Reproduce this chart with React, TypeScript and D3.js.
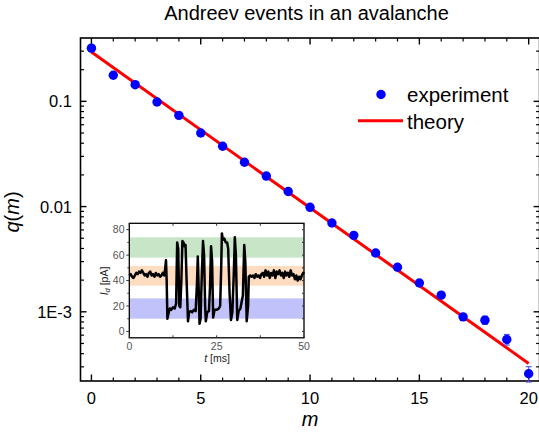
import React from "react";
import * as d3 from "d3";

// ---------- data ----------
const mValues = [0, 1, 2, 3, 4, 5, 6, 7, 8, 9, 10, 11, 12, 13, 14, 15, 16, 17, 18, 19, 20];
const qExperiment = [
  0.32, 0.177, 0.144, 0.0985, 0.0736, 0.05, 0.0374, 0.0264, 0.0195, 0.0139, 0.00984,
  0.00698, 0.00533, 0.00362, 0.00265, 0.00188, 0.00144, 0.000895, 0.000833, 0.000546, 0.000258,
];
const qError = [
  0, 0, 0, 0, 0, 0, 0, 0, 0, 0, 0, 0, 0, 0.00005, 0.00004, 0.00004, 0.00004, 0.00006, 0.000075,
  0.000063, 0.000043,
];
const theoryM = [0, 20];
const theoryQ = [0.294, 0.000323];

const yMajorTicks = [0.1, 0.01, 0.001];
const yMajorLabels = ["0.1", "0.01", "1E-3"];
const xMajorTicks = [0, 5, 10, 15, 20];

// inset trace (time in ms, current in pA)
const traceT = [
  0, 0.4, 0.8, 1.2, 1.6, 2.0, 2.4, 2.8, 3.2, 3.6, 4.0, 4.4, 4.8, 5.2, 5.6, 6.0, 6.4, 6.8, 7.2, 7.6,
  8.0, 8.4, 8.8, 9.2, 9.6, 10.0,
  10.3, 10.5, 10.7, 10.9, 11.2, 11.6, 12.0, 12.5, 13.0, 13.4, 13.7, 14.0, 14.3, 14.6, 14.9, 15.2,
  15.5, 15.8, 16.1, 16.4, 16.8, 17.1, 17.5, 18.0, 18.5, 19.0, 19.4, 19.6, 19.9, 20.1, 20.4, 20.7,
  21.1, 21.4, 21.7, 21.9, 22.3, 22.8, 23.1, 23.4, 23.7, 24.0, 24.4, 25.0, 25.6, 26.0, 26.3, 26.5,
  26.8, 27.2, 27.6, 28.0, 28.3, 28.7, 29.1, 29.5, 29.9, 30.2, 30.5, 30.9, 31.3, 31.8, 32.2, 32.5,
  32.9, 33.2, 33.6, 34.0, 34.2,
  34.6, 35.0, 35.4, 35.8, 36.2, 36.6, 37.0, 37.4, 37.8, 38.2, 38.6, 39.0, 39.4, 39.8, 40.2, 40.6,
  41.0, 41.4, 41.8, 42.2, 42.6, 43.0, 43.4, 43.8, 44.2, 44.6, 45.0, 45.4, 45.8, 46.2, 46.6, 47.0,
  47.4, 47.8, 48.2, 48.6, 49.0, 49.4, 49.8, 50,
];
const traceI = [
  44, 45, 43, 42, 44, 46, 45, 47, 46, 48, 46, 44, 45, 43, 46, 47, 44, 45, 43, 46,
  44, 45, 43, 44, 46, 44,
  50, 56, 40, 10, 14, 18, 17, 19, 18, 22, 70, 65, 20, 19, 40, 71,
  70, 67, 68, 40, 8, 15, 16, 15, 17, 16, 40, 59, 30, 6, 10, 40,
  71, 60, 20, 8, 15, 16, 35, 67, 55, 11, 17, 17, 18, 20, 50, 77,
  72, 73, 70, 70, 65, 30, 9, 15, 45, 74, 60, 9, 16, 18, 24, 28,
  68, 55, 8, 20, 43,
  44, 43, 44, 42, 45, 43, 44, 42, 45, 46, 43, 48, 44, 47, 42, 46,
  44, 48, 42, 47, 45, 48, 44, 46, 42, 47, 44, 46, 43, 48, 44, 45,
  41, 44, 40, 43, 41, 44, 46, 45,
];
const bandRanges = [
  [58, 74],
  [36, 51.5],
  [10, 26],
];
const bandColors = ["#c8e5c8", "#fddcc0", "#c2c2fb"];
const insetYTicks = [0, 20, 40, 60, 80];
const insetXTicks = [0, 25, 50];

export default function App() {
  const W = 539;
  const H = 434;
  const left = 80.5;
  const right = 539.6;
  const top = 38;
  const bottom = 381;

  const x = d3.scaleLinear().domain([-0.5, 20.5]).range([left, right]);
  const y = d3.scaleLog().domain([2.2e-4, 0.4]).range([bottom, top]);

  const minorY: number[] = [];
  [1e-4, 1e-3, 1e-2, 1e-1].forEach((dec) => {
    for (let k = 2; k <= 9; k++) {
      const v = dec * k;
      if (v > 2.2e-4 && v < 0.4) minorY.push(v);
    }
  });
  const xMinor = d3.range(0, 21).filter((v) => v % 5 !== 0);

  const theoryLine = d3
    .line<number>()
    .x((_, i) => x(theoryM[i]))
    .y((d) => y(d))(theoryQ) as string;

  // inset
  const iL = 129.3;
  const iR = 304;
  const iT = 223.3;
  const iB = 337.8;
  const ix = d3.scaleLinear().domain([0, 50]).range([iL, iR]);
  const iy = d3.scaleLinear().domain([-5, 85]).range([iB, iT]);
  const tracePath = d3
    .line<number>()
    .x((_, i) => ix(traceT[i]))
    .y((d) => iy(d))(traceI) as string;

  const font = "'Liberation Sans', Arial, Helvetica, sans-serif";
  const blue = "#0000ff";

  return (
    <svg
      width={W}
      height={H}
      style={{ position: "absolute", left: 0, top: 0, background: "#fff" }}
      fontFamily={font}
    >
      <rect x={0} y={0} width={W} height={H} fill="#fff" />
      {/* title */}
      <text x={306.5} y={20} fontSize={20} textAnchor="middle" fill="#000">
        Andreev events in an avalanche
      </text>

      {/* frame */}
      <rect x={left} y={top} width={right - left} height={bottom - top} fill="none" stroke="#000" strokeWidth={1.6} />

      {/* y ticks */}
      {yMajorTicks.map((v) => (
        <g key={"ym" + v}>
          <line x1={left} x2={left + 6} y1={y(v)} y2={y(v)} stroke="#000" strokeWidth={1.4} />
          <line x1={right} x2={right - 6} y1={y(v)} y2={y(v)} stroke="#000" strokeWidth={1.4} />
        </g>
      ))}
      {minorY.map((v) => (
        <g key={"yn" + v}>
          <line x1={left} x2={left + 3.5} y1={y(v)} y2={y(v)} stroke="#000" strokeWidth={1.2} />
          <line x1={right} x2={right - 3.5} y1={y(v)} y2={y(v)} stroke="#000" strokeWidth={1.2} />
        </g>
      ))}
      {yMajorTicks.map((v, i) => (
        <text key={"yl" + v} x={72} y={y(v)} dy="0.36em" fontSize={16.5} textAnchor="end" fill="#000">
          {yMajorLabels[i]}
        </text>
      ))}

      {/* x ticks */}
      {xMajorTicks.map((v) => (
        <g key={"xm" + v}>
          <line x1={x(v)} x2={x(v)} y1={bottom} y2={bottom - 6.5} stroke="#000" strokeWidth={1.4} />
          <line x1={x(v)} x2={x(v)} y1={top} y2={top + 6.5} stroke="#000" strokeWidth={1.4} />
          <text x={x(v)} y={404} fontSize={16.5} textAnchor="middle" fill="#000">
            {v}
          </text>
        </g>
      ))}
      {xMinor.map((v) => (
        <g key={"xn" + v}>
          <line x1={x(v)} x2={x(v)} y1={bottom} y2={bottom - 3.5} stroke="#000" strokeWidth={1.2} />
          <line x1={x(v)} x2={x(v)} y1={top} y2={top + 3.5} stroke="#000" strokeWidth={1.2} />
        </g>
      ))}

      {/* axis titles */}
      <text x={310} y={426} fontSize={20} fontStyle="italic" textAnchor="middle" fill="#000">
        m
      </text>
      <text
        transform="translate(19,212) rotate(-90)"
        fontSize={20}
        textAnchor="middle"
        fill="#000"
      >
        <tspan fontStyle="italic">q</tspan>(<tspan fontStyle="italic">m</tspan>)
      </text>

      {/* theory line */}
      <path d={theoryLine} fill="none" stroke="#ff0000" strokeWidth={3} />

      {/* error bars */}
      {mValues.map((m, i) =>
        qError[i] > 0 ? (
          <g key={"e" + m} stroke="#5050ff" strokeWidth={1.1}>
            <line x1={x(m)} x2={x(m)} y1={y(qExperiment[i] - qError[i])} y2={y(qExperiment[i] + qError[i])} />
            <line x1={x(m) - 3} x2={x(m) + 3} y1={y(qExperiment[i] - qError[i])} y2={y(qExperiment[i] - qError[i])} />
            <line x1={x(m) - 3} x2={x(m) + 3} y1={y(qExperiment[i] + qError[i])} y2={y(qExperiment[i] + qError[i])} />
          </g>
        ) : null
      )}
      {/* points */}
      {mValues.map((m, i) => (
        <circle key={"p" + m} cx={x(m)} cy={y(qExperiment[i])} r={4.7} fill={blue} />
      ))}

      {/* legend */}
      <circle cx={381} cy={94.5} r={4.7} fill={blue} />
      <text x={407} y={101.5} fontSize={20.5} fill="#000">
        experiment
      </text>
      <line x1={358} x2={403} y1={120.7} y2={120.7} stroke="#ff0000" strokeWidth={3} />
      <text x={407} y={129.3} fontSize={20.5} fill="#000">
        theory
      </text>

      {/* inset */}
      <rect x={iL} y={iT} width={iR - iL} height={iB - iT} fill="#fff" />
      {bandRanges.map((b, i) => (
        <rect key={"b" + i} x={iL} width={iR - iL} y={iy(b[1])} height={iy(b[0]) - iy(b[1])} fill={bandColors[i]} />
      ))}
      <path d={tracePath} fill="none" stroke="#000" strokeWidth={2.5} strokeLinejoin="round" />
      <rect x={iL} y={iT} width={iR - iL} height={iB - iT} fill="none" stroke="#000" strokeWidth={1.3} />
      {d3.range(0, 81, 10).map((v) => (
        <g key={"iyt" + v}>
          <line x1={iL} x2={iL - (v % 20 === 0 ? 3 : 2)} y1={iy(v)} y2={iy(v)} stroke="#333" strokeWidth={1} />
          <line x1={iR} x2={iR - 2} y1={iy(v)} y2={iy(v)} stroke="#333" strokeWidth={1} />
        </g>
      ))}
      {insetYTicks.map((v) => (
        <text key={"iyl" + v} x={124.5} y={iy(v)} dy="0.36em" fontSize={10.5} textAnchor="end" fill="#555">
          {v}
        </text>
      ))}
      {d3.range(0, 51, 12.5).map((v) => (
        <g key={"ixt" + v}>
          <line x1={ix(v)} x2={ix(v)} y1={iB} y2={iB - 2.5} stroke="#333" strokeWidth={1} />
          <line x1={ix(v)} x2={ix(v)} y1={iT} y2={iT + 2.5} stroke="#333" strokeWidth={1} />
        </g>
      ))}
      {insetXTicks.map((v) => (
        <text key={"ixl" + v} x={ix(v)} y={349.5} fontSize={10.5} textAnchor="middle" fill="#555">
          {v}
        </text>
      ))}
      <text x={217} y={362} fontSize={10.5} textAnchor="middle" fill="#222">
        <tspan fontStyle="italic">t</tspan> [ms]
      </text>
      <text transform="translate(107.5,281) rotate(-90)" fontSize={10.5} textAnchor="middle" fill="#222">
        <tspan fontStyle="italic">I</tspan>
        <tspan fontStyle="italic" fontSize={7.5} dy={2.5}>d</tspan>
        <tspan dy={-2.5}> [pA]</tspan>
      </text>
    </svg>
  );
}
